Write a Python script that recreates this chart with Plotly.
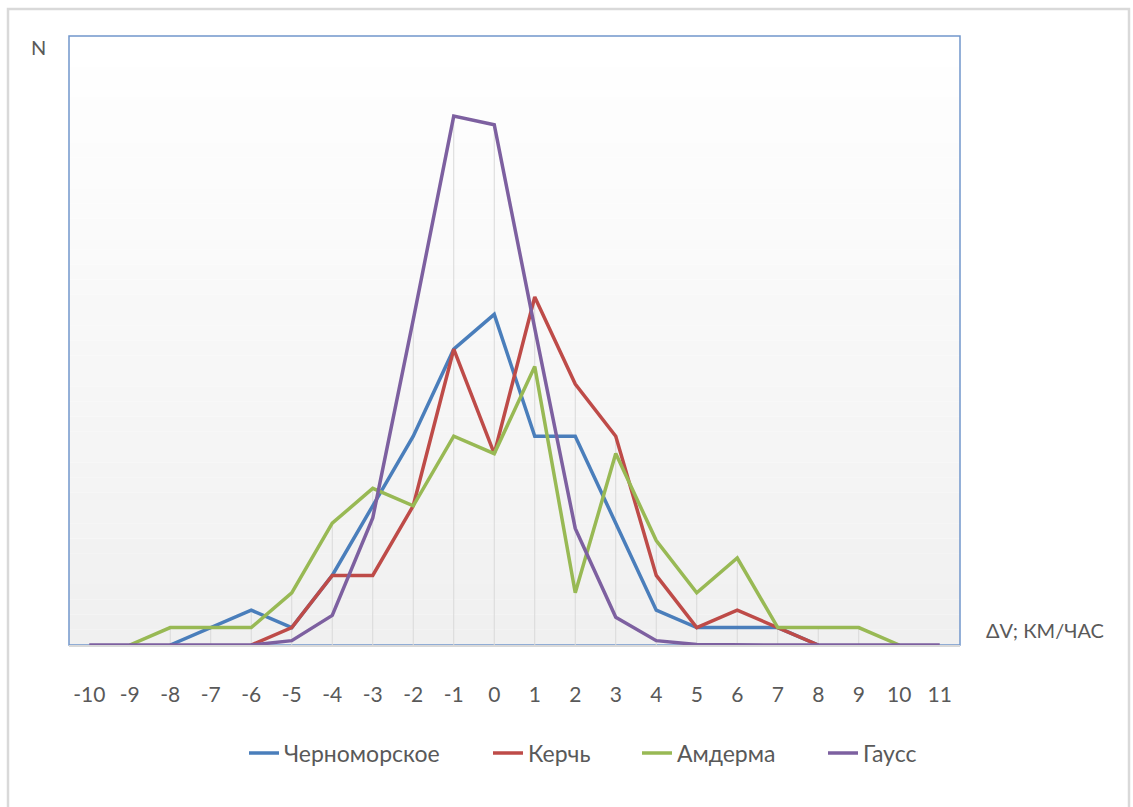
import plotly.graph_objects as go

# ---- data ----
categories = list(range(-10, 12))
tick_labels = [str(c) for c in categories]

chernomorskoe = [None, None, 0, 1, 2, 1, 4, 8, 12, 17, 19, 12, 12, 7, 2, 1, 1, 1, 0, None, None, None]
kerch =         [None, None, None, None, 0, 1, 4, 4, 8, 17, 11, 20, 15, 12, 4, 1, 2, 1, 0, None, None, None]
amderma =       [None, 0, 1, 1, 1, 3, 7, 9, 8, 12, 11, 16, 3, 11, 6, 3, 5, 1, 1, 1, 0, None]
gauss =         [0, 0, 0, 0, 0, 0.25, 1.7, 7.3, 18.7, 30.4, 29.9, 18.2, 6.7, 1.6, 0.25, 0.03, 0, 0, 0, 0, 0, 0]

series_names = ["Черноморское", "Керчь", "Амдерма", "Гаусс"]
series_values = [chernomorskoe, kerch, amderma, gauss]
series_colors = ["#4A7EBB", "#BE4B48", "#98B954", "#7D60A0"]

FONT = "Lato"
GRAY = "#595959"

L, R, T, B = 69, 960, 36, 645
W, H = R - L, B - T
def px(x): return (x - L) / W
def py(y): return (B - y) / H

fig = go.Figure()

# drop lines (from each category's highest value down to the axis)
dx, dy = [], []
for i, c in enumerate(categories):
    vals = [s[i] for s in series_values if s[i] is not None]
    m = max(vals) if vals else 0
    dx += [c, c, None]
    dy += [0, m, None]
fig.add_trace(go.Scatter(x=dx, y=dy, mode="lines", line=dict(color="#D9D9D9", width=1),
                         showlegend=False, hoverinfo="skip"))

legend_ids = ["legend", "legend2", "legend3", "legend4"]
legend_text_x = [287, 531, 680, 866]   # left edge of each legend entry's text

for name, vals, col, lid in zip(series_names, series_values, series_colors, legend_ids):
    fig.add_trace(go.Scatter(x=categories, y=vals, name=name, mode="lines",
                             line=dict(color=col, width=3.5), connectgaps=False, legend=lid))

shapes = []
# gradient plot background
n = 40
for k in range(n):
    t = k / (n - 1)
    v = int(round(255 - (255 - 240) * (1 - t)))
    shapes.append(dict(type="rect", xref="x domain", yref="y domain",
                       x0=0, x1=1, y0=k / n, y1=(k + 1) / n,
                       fillcolor=f"rgb({v},{v},{v})", line=dict(width=0), layer="below"))
# plot area border
shapes.append(dict(type="rect", xref="x domain", yref="y domain", x0=0, x1=1, y0=0, y1=1,
                   line=dict(color="#7197CC", width=1.5), fillcolor="rgba(0,0,0,0)", layer="below"))
# outer chart border
shapes.append(dict(type="rect", xref="paper", yref="paper",
                   x0=px(8), x1=px(1129), y0=py(812), y1=py(9),
                   line=dict(color="#D9D9D9", width=2.5), fillcolor="rgba(0,0,0,0)", layer="below"))

annotations = [
    dict(text="N", xref="paper", yref="paper", x=px(38), y=py(47), showarrow=False,
         font=dict(family=FONT, size=20, color=GRAY), xanchor="center", yanchor="middle"),
    dict(text="ΔV; КМ/ЧАС", xref="paper", yref="paper", x=px(1045), y=py(630), showarrow=False,
         font=dict(family=FONT, size=20, color=GRAY), xanchor="center", yanchor="middle"),
]

legend_common = dict(orientation="h", yanchor="middle", xanchor="left",
                     font=dict(family=FONT, size=23, color=GRAY), itemwidth=30,
                     bgcolor="rgba(0,0,0,0)")
legends = {}
for lid, tx in zip(legend_ids, legend_text_x):
    legends[lid] = dict(legend_common, x=px(tx - 43), y=py(753))

fig.update_layout(
    width=1133, height=807,
    margin=dict(l=L, r=1133 - R, t=T, b=807 - B),
    paper_bgcolor="white", plot_bgcolor="white",
    shapes=shapes, annotations=annotations,
    showlegend=True,
    xaxis=dict(range=[-10.5, 11.5], tickmode="array", tickvals=categories, ticktext=tick_labels,
               showgrid=False, zeroline=False, showline=True, linecolor="#D9D9D9", linewidth=2,
               ticks="", ticklabelstandoff=30, layer="below traces",
               tickfont=dict(family=FONT, size=21, color=GRAY)),
    yaxis=dict(range=[0, 35], showgrid=False, zeroline=False, showline=False,
               showticklabels=False, ticks=""),
    **legends,
)

fig.write_html("out.html")
